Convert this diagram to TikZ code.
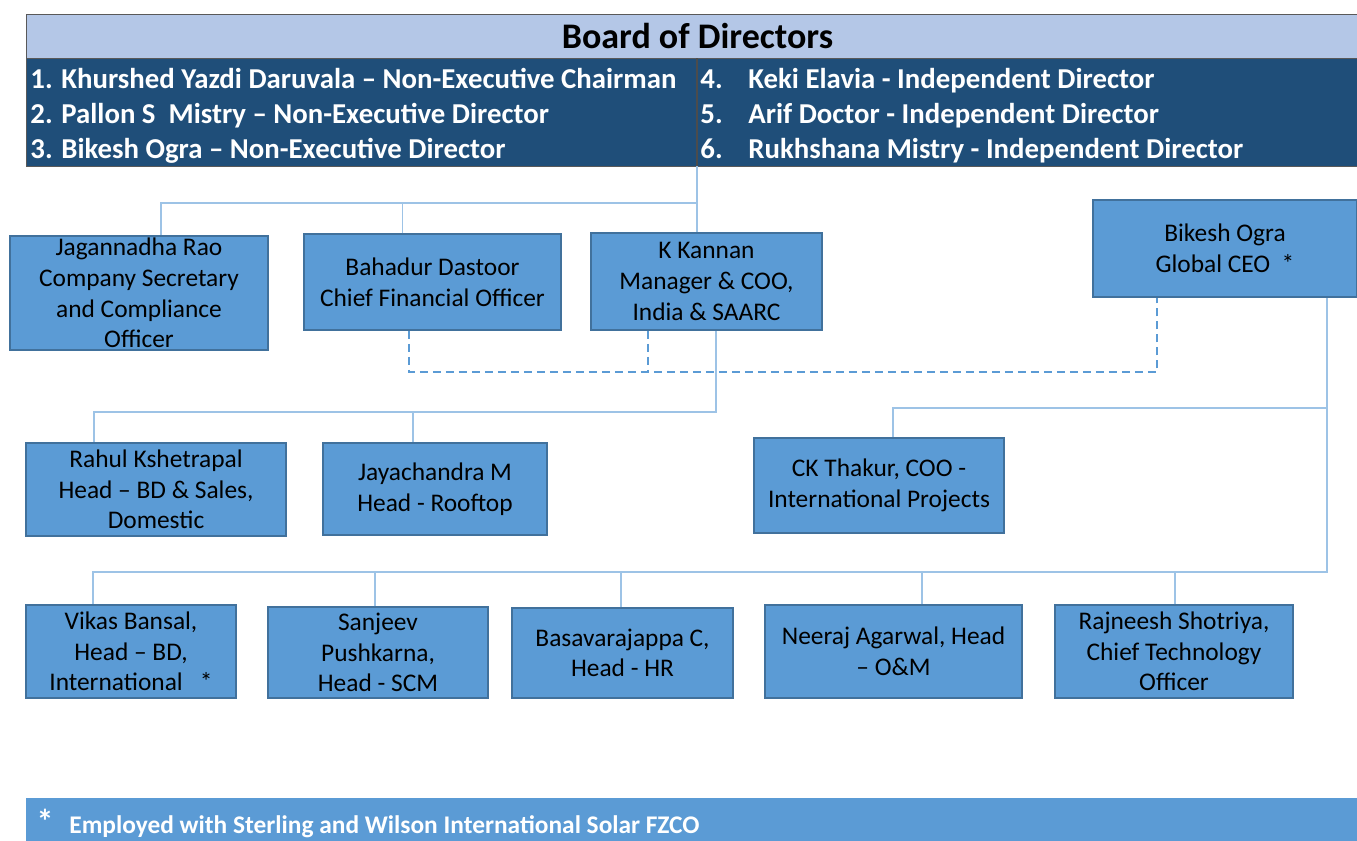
\documentclass[tikz,border=0pt]{standalone}
\usepackage{fontspec}
\setmainfont{Carlito}
\usetikzlibrary{positioning}
\definecolor{hdrblue}{HTML}{B4C7E7}
\definecolor{navy}{HTML}{1F4E79}
\definecolor{boxblue}{HTML}{5B9BD5}
\definecolor{boxedge}{HTML}{41719C}
\definecolor{linkblue}{HTML}{9DC3E6}
\begin{document}
\begin{tikzpicture}[x=0.5pt,y=-0.5pt]
  \tikzstyle{post}=[rectangle,draw=boxedge,fill=boxblue,line width=0.75pt,align=center,inner sep=0pt,font=\fontsize{12.7}{15.3}\selectfont]
  \tikzstyle{link}=[draw=linkblue,line width=0.8pt]
  \tikzstyle{dashlink}=[draw=boxblue,line width=1pt,dash pattern=on 4pt off 2.5pt]
  \tikzstyle{dirtxt}=[anchor=base west,text=white,inner sep=0pt,font=\fontsize{14.4}{17.5}\selectfont\bfseries]
  \useasboundingbox (0,0) rectangle (1357,841);
  \node[draw=black!65,fill=hdrblue,minimum width=665.5pt,minimum height=22pt,inner sep=0pt,font=\fontsize{18}{21}\selectfont\bfseries] (hdr) at (691.5,36) {\hspace*{6pt}Board of Directors};
  \node[draw=black!65,fill=navy,minimum width=665.5pt,minimum height=54pt,inner sep=0pt,below=0pt of hdr] (dirs) {};
  \foreach \n/\y/\t in {d1/88/{1. Khurshed Yazdi Daruvala – Non-Executive Chairman},
                        d2/123/{2. Pallon S\ \ Mistry – Non-Executive Director},
                        d3/158/{3. Bikesh Ogra – Non-Executive Director}}
    \node[dirtxt] (\n) at (30,\y) {\t};
  \foreach \n/\y/\k/\t in {d4/88/4./{Keki Elavia - Independent Director},
                           d5/123/5./{Arif Doctor - Independent Director},
                           d6/158/6./{Rukhshana Mistry - Independent Director}}
  {
    \node[dirtxt] (\n k) at (700,\y) {\k};
    \node[dirtxt] (\n) at (748,\y) {\t};
  }
  \coordinate (split) at (697,166);
  \draw[black!70,line width=0.6pt] (split) -- (split |- dirs.north);

  \node[post,minimum width=129pt,minimum height=57pt] (jag) at (139,293) {Jagannadha Rao\\Company Secretary\\and Compliance\\Officer};
  \node[post,minimum width=128.5pt,minimum height=48pt] (bah) at (432.5,282) {Bahadur Dastoor\\Chief Financial Officer};
  \node[post,minimum width=115.5pt,minimum height=48.5pt] (kan) at (706.5,281.5) {K Kannan\\Manager \& COO,\\India \& SAARC};
  \node[post,minimum width=132pt,minimum height=48.5pt] (bik) at (1225,248.5) {Bikesh Ogra\\Global CEO\ \ *};
  \node[post,minimum width=130pt,minimum height=46.5pt] (rah) at (156,489.5) {Rahul Kshetrapal\\Head – BD \& Sales,\\Domestic};
  \node[post,minimum width=112pt,minimum height=46pt] (jay) at (435,489) {Jayachandra M\\Head - Rooftop};
  \node[post,minimum width=125pt,minimum height=47.5pt] (ckt) at (879,485.5) {CK Thakur, COO -\\International Projects};
  \node[post,minimum width=105pt,minimum height=46.5pt] (vik) at (131,651.5) {Vikas Bansal,\\Head – BD,\\International\ \ \ *};
  \node[post,minimum width=110pt,minimum height=45.5pt] (san) at (378,652.5) {Sanjeev\\Pushkarna,\\Head - SCM};
  \node[post,minimum width=110.5pt,minimum height=45pt] (bas) at (622.5,653) {Basavarajappa C,\\Head - HR};
  \node[post,minimum width=128.5pt,minimum height=46.5pt] (nee) at (893.5,651.5) {Neeraj Agarwal, Head\\– O\&M};
  \node[post,minimum width=119pt,minimum height=46.5pt] (raj) at (1174,651.5) {Rajneesh Shotriya,\\Chief Technology\\Officer};

  \coordinate (bus1) at (697,203);
  \coordinate (bus2) at (413,412);
  \coordinate (bus3) at (1327,572);
  \coordinate (bus4) at (1327,408);
  \coordinate (dsh) at (648,372);
  \draw[link] (split) -- (split |- kan.north);
  \draw[link] (bus1) -| ([xshift=11pt]jag.north);
  \draw[link] ([xshift=-15pt]bah.north) -- ([xshift=-15pt]bah.north |- bus1);
  \draw[dashlink] ([xshift=-11.75pt]bah.south) |- (dsh) -| ([xshift=-34pt]bik.south);
  \draw[dashlink] ([xshift=-29.25pt]kan.south) -- (dsh);
  \draw[link] ([xshift=4.75pt]kan.south) |- (bus2) -| ([xshift=-31pt]rah.north);
  \draw[link] (bus2) -- (bus2 |- jay.north);
  \draw[link] ([xshift=51pt]bik.south) -- (bus3) -| ([xshift=-19pt]vik.north);
  \draw[link] (bus4) -| ([xshift=7pt]ckt.north);
  \foreach \b/\dx in {san/-1.5pt,bas/-0.75pt,nee/14.25pt,raj/0.5pt}
    \draw[link] ([xshift=\dx]\b.north) -- ([xshift=\dx]\b.north |- bus3);

  \node[fill=boxblue,minimum width=665.5pt,minimum height=21.5pt,inner sep=0pt] (foot) at (691.5,819.5) {};
  \node[text=white,inner sep=0pt,font=\fontsize{17}{17}\selectfont\bfseries] (star) at (45,821) {*};
  \node[anchor=west,text=white,inner sep=0pt,font=\fontsize{12.7}{15}\selectfont\bfseries] (note) at (69,827) {Employed with Sterling and Wilson International Solar FZCO};
\end{tikzpicture}
\end{document}
